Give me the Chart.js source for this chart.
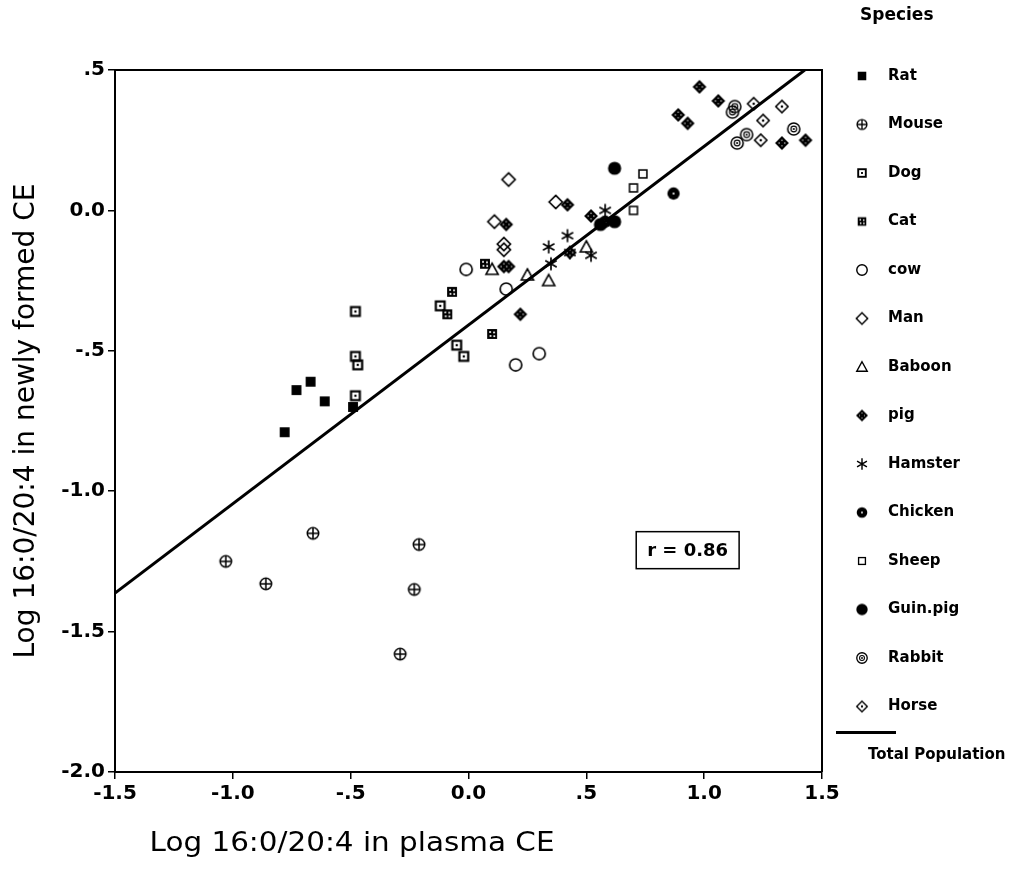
<!DOCTYPE html>
<html><head><meta charset="utf-8">
<script src="https://cdn.jsdelivr.net/npm/chart.js@4.4.1/dist/chart.umd.min.js"></script>
<style>html,body{margin:0;padding:0;background:#fff;}canvas{display:block;}</style>
</head><body>
<canvas id="c" width="1030" height="870"></canvas>
<script>
// ---------- data ----------
const speciesNames = ['Rat','Mouse','Dog','Cat','cow','Man','Baboon','pig','Hamster','Chicken','Sheep','Guin.pig','Rabbit','Horse'];
const ratData = [[-0.78,-0.79],[-0.73,-0.64],[-0.67,-0.61],[-0.61,-0.68],[-0.49,-0.70]];
const mouseData = [[-1.03,-1.25],[-0.86,-1.33],[-0.66,-1.15],[-0.21,-1.19],[-0.23,-1.35],[-0.29,-1.58]];
const dogData = [[-0.48,-0.36],[-0.48,-0.52],[-0.47,-0.55],[-0.48,-0.66],[-0.12,-0.34],[-0.05,-0.48],[-0.02,-0.52]];
const catData = [[0.07,-0.19],[-0.07,-0.29],[-0.09,-0.37],[0.10,-0.44]];
const cowData = [[-0.01,-0.21],[0.16,-0.28],[0.30,-0.51],[0.20,-0.55]];
const manData = [[0.17,0.11],[0.37,0.03],[0.11,-0.04],[0.15,-0.12],[0.15,-0.14]];
const baboonData = [[0.10,-0.21],[0.25,-0.23],[0.34,-0.25],[0.50,-0.13]];
const pigData = [[0.42,0.02],[0.16,-0.05],[0.17,-0.20],[0.15,-0.20],[0.22,-0.37],[0.43,-0.15],[0.52,-0.02],[0.98,0.44],[1.06,0.39],[0.89,0.34],[0.93,0.31],[1.33,0.24],[1.43,0.25]];
const hamsterData = [[0.34,-0.13],[0.42,-0.09],[0.35,-0.19],[0.43,-0.15],[0.52,-0.16],[0.58,0.00]];
const chickenData = [[0.87,0.06],[0.58,-0.04]];
const sheepData = [[0.74,0.13],[0.70,0.08],[0.70,0.00]];
const guinpigData = [[0.62,0.15],[0.56,-0.05],[0.62,-0.04]];
const rabbitData = [[1.13,0.37],[1.12,0.35],[1.38,0.29],[1.18,0.27],[1.14,0.24]];
const horseData = [[1.21,0.38],[1.33,0.37],[1.25,0.32],[1.24,0.25]];
const fitLineData = [[-1.5,-1.363],[1.427,0.5]];
const fitLabel = 'Total Population';
const xTickValues = [-1.5,-1.0,-0.5,0,0.5,1.0,1.5];
const yTickValues = [-2.0,-1.5,-1.0,-0.5,0,0.5];
const xTitle = 'Log 16:0/20:4 in plasma CE';
const yTitle = 'Log 16:0/20:4 in newly formed CE';
const legendTitle = 'Species';
const rLabel = 'r = 0.86';

const seriesData = [ratData,mouseData,dogData,catData,cowData,manData,baboonData,pigData,hamsterData,chickenData,sheepData,guinpigData,rabbitData,horseData];

// ---------- marker icons ----------
function diamond(g,r){g.beginPath();g.moveTo(0,-r);g.lineTo(r,0);g.lineTo(0,r);g.lineTo(-r,0);g.closePath();}
function circ(g,r){g.beginPath();g.arc(0,0,r,0,Math.PI*2);}
const drawers = {
  Rat(g){g.fillRect(-4.5,-4.5,9,9);},
  Mouse(g){g.lineWidth=1.4;circ(g,5.2);g.stroke();g.beginPath();g.moveTo(-5.2,0);g.lineTo(5.2,0);g.moveTo(0,-5.2);g.lineTo(0,5.2);g.stroke();},
  Dog(g){g.lineWidth=2;g.strokeRect(-4,-4,8,8);g.fillRect(-1,-1,2,2);},
  Cat(g){g.fillRect(-4.5,-4.5,9,9);g.fillStyle='#fff';g.fillRect(-2.6,-2.6,1.6,1.6);g.fillRect(1,-2.2,1.6,1.6);g.fillRect(-2.2,1,1.6,1.6);g.fillRect(1.2,1.2,1.6,1.6);},
  cow(g){g.lineWidth=1.5;circ(g,5.5);g.stroke();},
  Man(g){g.lineWidth=1.5;diamond(g,6);g.stroke();},
  Baboon(g){g.lineWidth=1.5;g.beginPath();g.moveTo(0,-5.5);g.lineTo(5.5,4.5);g.lineTo(-5.5,4.5);g.closePath();g.stroke();},
  pig(g){diamond(g,6.3);g.fill();g.fillStyle='#fff';[[0,-2.6],[0,2.6],[-2.6,0],[2.6,0]].forEach(p=>{g.beginPath();g.arc(p[0],p[1],0.6,0,7);g.fill();});},
  Hamster(g){g.lineWidth=1.5;g.beginPath();[90,30,150].forEach(a=>{const t=a*Math.PI/180,c=Math.cos(t)*6,s=Math.sin(t)*6;g.moveTo(-c,-s);g.lineTo(c,s);});g.stroke();},
  Chicken(g){circ(g,5.6);g.fill();g.fillStyle='#fff';g.beginPath();g.arc(0,0,1,0,7);g.fill();},
  Sheep(g){g.lineWidth=1.4;g.strokeRect(-3.6,-3.6,7.2,7.2);},
  'Guin.pig'(g){circ(g,6);g.fill();},
  Rabbit(g){g.lineWidth=1.4;circ(g,5.5);g.stroke();g.lineWidth=1.1;circ(g,2.6);g.stroke();circ(g,1);g.fill();},
  Horse(g){g.lineWidth=1.4;diamond(g,5.6);g.stroke();circ(g,1.2);g.fill();}
};
function makeIcon(name, s){
  const c=document.createElement('canvas');c.width=18;c.height=18;
  const g=c.getContext('2d');g.translate(9,9);g.scale(s,s);
  g.strokeStyle='#000';g.fillStyle='#000';
  drawers[name](g);return c;
}

const fmt = v => {
  const r = Math.round(v*10)/10;
  if (r === 0) return '0.0';
  const a = Math.abs(r);
  const s = Number.isInteger(a) ? a.toFixed(1) : (a < 1 ? String(a).slice(1) : a.toFixed(1));
  return (r < 0 ? '-' : '') + s;
};

const datasets = speciesNames.map((name,i)=>({
  label:name,
  data: seriesData[i].map(p=>({x:p[0],y:p[1]})),
  pointStyle: makeIcon(name,1.1),
  legendIcon: makeIcon(name,0.95),
  pointRadius:6,
  showLine:false
}));
datasets.push({
  label: fitLabel,
  isFit: true,
  data: fitLineData.map(p=>({x:p[0],y:p[1]})),
  showLine:true, borderColor:'#000', borderWidth:3, pointRadius:0, fill:false, order:-1
});

const TICKFONT = {family:'"DejaVu Sans"', size:20, weight:'bold'};

const decor = {
  id:'decor',
  afterDraw(chart){
    const {ctx, chartArea:a, scales:{x,y}} = chart;
    ctx.save();
    ctx.strokeStyle='#000'; ctx.fillStyle='#000';
    ctx.lineWidth=2;
    ctx.beginPath();ctx.moveTo(a.left,a.top);ctx.lineTo(a.right,a.top);ctx.lineTo(a.right,a.bottom);ctx.stroke();
    // r box
    const bx=x.getPixelForValue(0.93), by=y.getPixelForValue(-1.21);
    ctx.font='bold 18px "DejaVu Sans"';
    const tw=ctx.measureText(rLabel).width, w=tw+22, h=37;
    ctx.fillStyle='#fff';ctx.fillRect(bx-w/2,by-h/2,w,h);
    ctx.lineWidth=1.5;ctx.strokeRect(bx-w/2,by-h/2,w,h);
    ctx.fillStyle='#000';ctx.textAlign='center';ctx.textBaseline='middle';
    ctx.fillText(rLabel,bx,by+1);
    // x title
    ctx.font='27px "DejaVu Sans"';
    const xw=ctx.measureText(xTitle).width, target=405;
    ctx.save();ctx.translate(352,844);ctx.scale(target/xw,1);ctx.fillText(xTitle,0,0);ctx.restore();
    // legend
    ctx.textAlign='left';
    ctx.font='bold 17px "DejaVu Sans"';
    ctx.fillText(legendTitle,860,16);
    ctx.font='bold 15px "DejaVu Sans"';
    const y0=76, dy=48.5;
    chart.data.datasets.forEach((ds,i)=>{
      if(ds.isFit) return;
      const yy=y0+i*dy;
      ctx.drawImage(ds.legendIcon,862-9,yy-9);
      ctx.fillText(ds.label,888,yy);
    });
    const ly=y0+13*dy+26;
    ctx.lineWidth=3;ctx.beginPath();ctx.moveTo(836,ly);ctx.lineTo(896,ly);ctx.stroke();
    ctx.fillText(fitLabel,868,ly+23);
    ctx.restore();
  }
};

new Chart(document.getElementById('c'),{
  type:'scatter',
  data:{datasets},
  options:{
    responsive:false, animation:false, devicePixelRatio:1,
    layout:{padding:{top:70,right:208,left:0,bottom:0}},
    plugins:{legend:{display:false},tooltip:{enabled:false}},
    scales:{
      x:{type:'linear',min:-1.5,max:1.5,
        afterBuildTicks:s=>{s.ticks=xTickValues.map(v=>({value:v}));},
        afterFit:s=>{s.height=98;},
        ticks:{callback:fmt,color:'#000',font:TICKFONT,padding:3,maxRotation:0,autoSkip:false},
        grid:{drawOnChartArea:false,color:'#000',lineWidth:1.5,tickLength:7},
        border:{display:true,color:'#000',width:2}},
      y:{type:'linear',min:-2,max:0.5,
        afterBuildTicks:s=>{s.ticks=yTickValues.map(v=>({value:v}));},
        afterFit:s=>{s.width=115;},
        ticks:{callback:fmt,color:'#000',font:TICKFONT,padding:3,autoSkip:false},
        grid:{drawOnChartArea:false,color:'#000',lineWidth:1.5,tickLength:7},
        border:{display:true,color:'#000',width:2},
        title:{display:true,text:yTitle,color:'#000',font:{family:'"DejaVu Sans"',size:28},padding:{top:10,bottom:0}}}
    }
  },
  plugins:[decor]
});
</script>
</body></html>
